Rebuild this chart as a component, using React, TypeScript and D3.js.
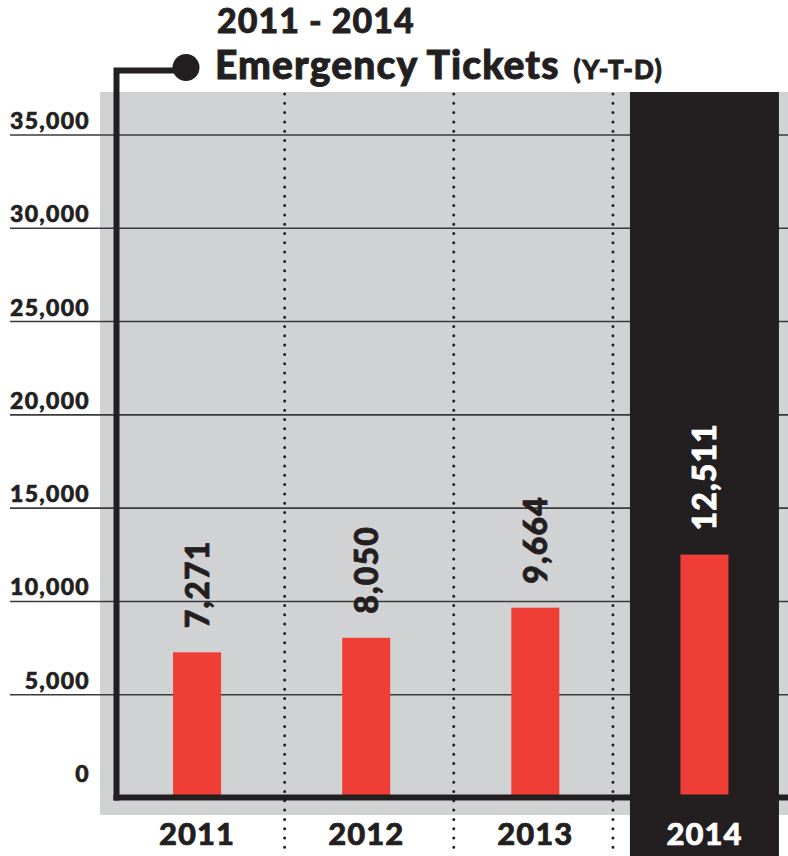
import React from "react";
import * as d3 from "d3";

const years: string[] = ["2011", "2012", "2013", "2014"];
const tickets: number[] = [7271, 8050, 9664, 12511];
const highlightYear = "2014";
const yTicks: number[] = [0, 5000, 10000, 15000, 20000, 25000, 30000, 35000];
const titleLine1 = "2011 - 2014";
const titleMain = "Emergency Tickets";
const titleSub = "(Y-T-D)";

const W = 788;
const H = 856;
const DARK = "#231f20";
const GRAY = "#d1d2d4";
const RED = "#ef3e36";
const FONT = "Lato, 'Open Sans', sans-serif";

export default function App() {
  const x = d3.scaleBand<string>().domain(years).range([112.5, 789]).paddingInner(0).paddingOuter(0);
  const y = d3.scaleLinear().domain([0, 35000]).range([788, 135]);
  const fmt = d3.format(",");

  const bgTop = 92;
  const bgBottom = 815;
  const axisX = 116.5;
  const axisY = 797.5;
  const barW = 48;
  const hiCenter = (x(highlightYear) ?? 0) + x.bandwidth() / 2;
  const hiHalf = 74.5;

  return (
    <div style={{ position: "fixed", left: 0, top: 0 }}>
      <svg width={W} height={H} viewBox={`0 0 ${W} ${H}`} style={{ display: "block", background: "#fff" }}>
        {/* gray panel */}
        <rect x={100} y={bgTop} width={W - 100} height={bgBottom - bgTop} fill={GRAY} />

        {/* gridlines */}
        {yTicks.filter((t) => t > 0).map((t) => (
          <line key={t} x1={10} x2={W} y1={y(t)} y2={y(t)} stroke="#3a3a3a" strokeWidth={1.6} />
        ))}

        {/* highlighted column */}
        <rect x={hiCenter - hiHalf} y={bgTop} width={hiHalf * 2} height={H - bgTop} fill={DARK} />

        {/* dotted separators */}
        {years.slice(1).map((yr) => {
          const xx = yr === highlightYear ? hiCenter - hiHalf - 17 : (x(yr) ?? 0) + 3;
          return (
            <line key={yr} x1={xx} x2={xx} y1={bgTop + 2} y2={H}
              stroke={DARK} strokeWidth={3} strokeDasharray="0 9.3" strokeLinecap="round" />
          );
        })}

        {/* bars */}
        {years.map((yr, i) => {
          const cx = (x(yr) ?? 0) + x.bandwidth() / 2;
          return (
            <rect key={yr} x={cx - barW / 2} y={y(tickets[i])} width={barW} height={axisY - y(tickets[i])} fill={RED} />
          );
        })}

        {/* value labels */}
        {years.map((yr, i) => {
          const cx = (x(yr) ?? 0) + x.bandwidth() / 2;
          const ty = y(tickets[i]) - 24;
          const col = yr === highlightYear ? "#fff" : DARK;
          return (
            <text key={yr} transform={`translate(${cx + 12},${ty}) rotate(-90)`} fontFamily={FONT}
              fontWeight={900} fontSize={32} fill={col} stroke={col} strokeWidth={0.8} textAnchor="start"
              letterSpacing={1.2}>
              {fmt(tickets[i])}
            </text>
          );
        })}

        {/* y labels */}
        {yTicks.map((t) => (
          <text key={t} x={90} y={y(t) - 6} textAnchor="end" fontFamily={FONT} fontWeight={900}
            fontSize={23} fill={DARK} stroke={DARK} strokeWidth={0.6} letterSpacing={1.3}>
            {fmt(t)}
          </text>
        ))}

        {/* axes */}
        <line x1={axisX - 3} x2={W} y1={axisY} y2={axisY} stroke={DARK} strokeWidth={6} />
        <path d={`M${axisX},${axisY + 3} V70.5 H186`} fill="none" stroke={DARK} strokeWidth={6} />
        <circle cx={186} cy={67.5} r={13.5} fill={DARK} />

        {/* x labels */}
        {years.map((yr) => {
          const cx = (x(yr) ?? 0) + x.bandwidth() / 2;
          const col = yr === highlightYear ? "#fff" : DARK;
          return (
            <text key={yr} x={cx} y={845} textAnchor="middle" fontFamily={FONT} fontWeight={900}
              fontSize={31} fill={col} stroke={col} strokeWidth={0.7} letterSpacing={1}>
              {yr}
            </text>
          );
        })}

        {/* title */}
        <text x={217} y={33} fontFamily={FONT} fontWeight={900} fontSize={34} fill={DARK}
          stroke={DARK} strokeWidth={0.8} letterSpacing={1}>
          {titleLine1}
        </text>
        <text x={215} y={79} fontFamily={FONT} fontWeight={900} fontSize={39} fill={DARK}
          stroke={DARK} strokeWidth={0.9} letterSpacing={1.1}>
          {titleMain}
          <tspan fontSize={26} dx={14}>{titleSub}</tspan>
        </text>
      </svg>
    </div>
  );
}
